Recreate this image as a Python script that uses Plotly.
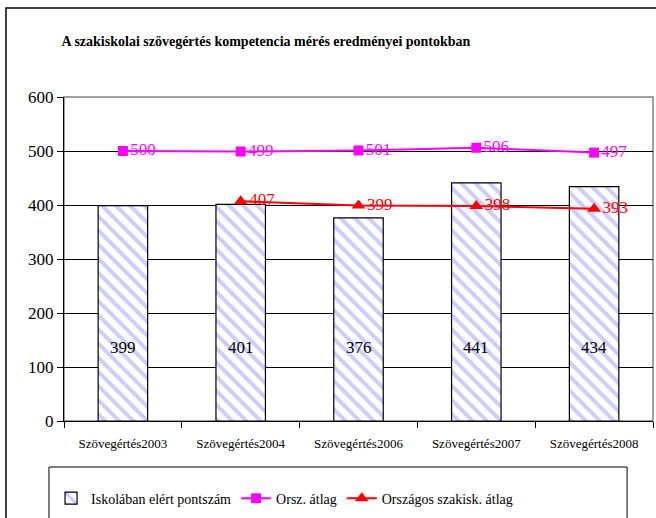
import plotly.graph_objects as go

categories = ["Szövegértés2003", "Szövegértés2004", "Szövegértés2006", "Szövegértés2007", "Szövegértés2008"]
school_scores = [399, 401, 376, 441, 434]
national_avg = [500, 499, 501, 506, 497]
national_vocational_avg = [None, 407, 399, 398, 393]
y_ticks = [0, 100, 200, 300, 400, 500, 600]

SERIF = "Liberation Serif"
BAR_LABEL_Y = 137

fig = go.Figure()

fig.add_trace(go.Bar(
    x=categories, y=school_scores, name="Iskolában elért pontszám",
    width=0.42,
    marker=dict(
        color="white",
        line=dict(color="black", width=1.2),
        pattern=dict(shape="\\", fgcolor="#9999FF", bgcolor="white", size=10, solidity=0.4),
    ),
))

fig.add_trace(go.Scatter(
    x=categories, y=national_avg, name="Orsz. átlag",
    mode="lines+markers+text",
    line=dict(color="#FF00FF", width=2),
    marker=dict(symbol="square", size=10, color="#FF00FF"),
    text=[str(v) for v in national_avg], textposition="middle right",
    textfont=dict(family=SERIF, size=17, color="#FF00FF"),
))

fig.add_trace(go.Scatter(
    x=categories, y=national_vocational_avg, name="Országos szakisk. átlag",
    mode="lines+markers+text",
    line=dict(color="#FF0000", width=2),
    marker=dict(symbol="triangle-up", size=12, color="#FF0000"),
    text=["" if v is None else str(v) for v in national_vocational_avg], textposition="middle right",
    textfont=dict(family=SERIF, size=17, color="#FF0000"),
))

for c, v in zip(categories, school_scores):
    fig.add_annotation(x=c, y=BAR_LABEL_Y, text=str(v), showarrow=False,
                       font=dict(family=SERIF, size=17, color="black"))

# plot area border (top/right gray)
fig.add_shape(type="rect", xref="paper", yref="paper", x0=0, x1=1, y0=0, y1=1,
              line=dict(color="#808080", width=1.5), layer="below")
# outer chart border
fig.add_shape(type="rect", xref="paper", yref="paper", x0=-0.0985, x1=1.2, y0=-0.5, y1=1.2747,
              line=dict(color="black", width=1.5))
# legend border
fig.add_shape(type="rect", xref="paper", yref="paper", x0=-0.0255, x1=0.956, y0=-0.5, y1=-0.142,
              line=dict(color="black", width=1))

fig.update_layout(
    width=656, height=518,
    margin=dict(l=64, r=3, t=97, b=97),
    paper_bgcolor="white", plot_bgcolor="white",
    title=dict(text="<b>A szakiskolai szövegértés kompetencia mérés eredményei pontokban</b>",
               x=266/656, xanchor="center", xref="container",
               y=1 - 41/518, yanchor="middle", yref="container",
               font=dict(family=SERIF, size=14, color="black")),
    font=dict(family=SERIF, color="black"),
    showlegend=True,
    legend=dict(orientation="h", x=-0.022, xanchor="left", y=-0.19, yanchor="top",
                font=dict(family=SERIF, size=14, color="black"),
                bgcolor="rgba(0,0,0,0)", borderwidth=0, traceorder="normal"),
)

fig.update_xaxes(
    type="category", showline=True, linecolor="black", linewidth=1.2,
    ticks="outside", tickson="boundaries", ticklen=6, tickcolor="black",
    tickfont=dict(family=SERIF, size=13, color="black"),
    showgrid=False, ticklabelstandoff=10,
)
fig.update_yaxes(
    range=[0, 600], tickvals=y_ticks, showline=True, linecolor="black", linewidth=1.2,
    ticks="outside", ticklen=6, tickcolor="black",
    showgrid=True, gridcolor="black", gridwidth=1,
    tickfont=dict(family=SERIF, size=17, color="black"),
    zeroline=False,
)

fig.write_html("out.html", post_script="document.body.style.margin='0';",
               config={"displayModeBar": False})
